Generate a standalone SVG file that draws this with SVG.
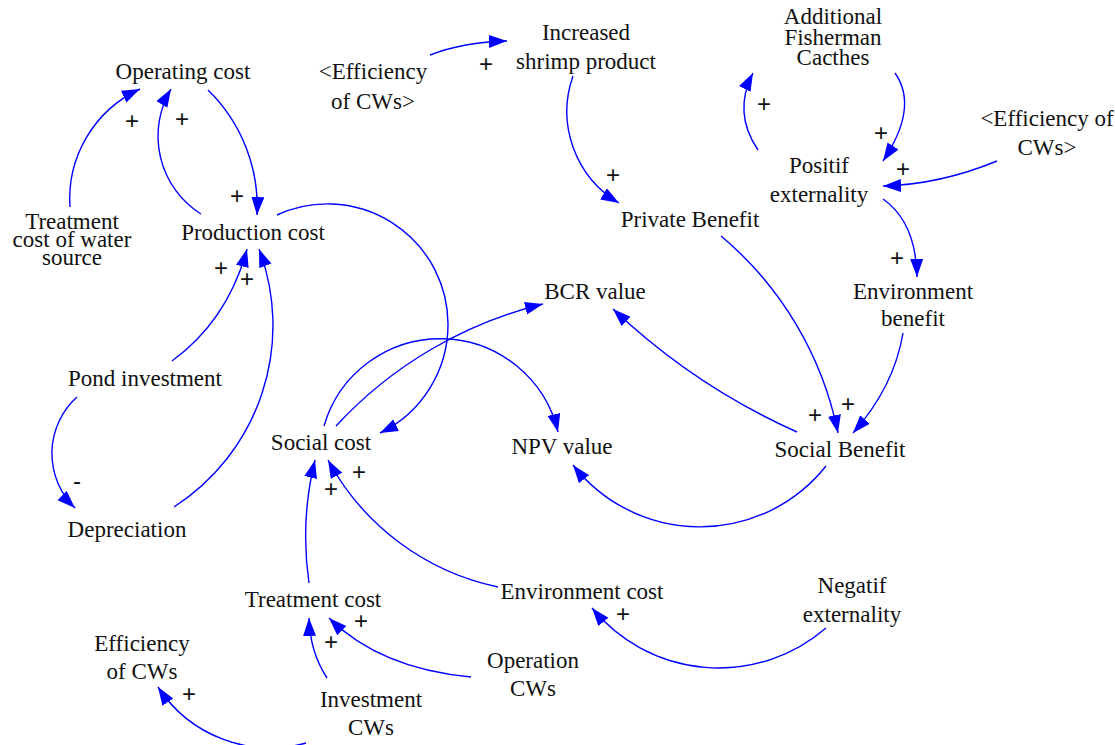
<svg xmlns="http://www.w3.org/2000/svg" width="1115" height="745" viewBox="0 0 1115 745">
<style>
.c path{fill:none;stroke:#0000FF;stroke-width:1.4;marker-end:url(#ah)}
</style>
<defs>
<marker id="ah" markerUnits="userSpaceOnUse" markerWidth="20" markerHeight="14" refX="18" refY="6.5" orient="auto">
<path d="M0,0 L18,6.5 L0,13 z" fill="#0000FF"/>
</marker>
</defs>
<rect width="1115" height="745" fill="#fff"/>
<g class="c" id="connectors">
<path d="M277,215 A120.5,120.5 0 0 1 448,324 A120.5,120.5 0 0 1 380,433"/>
<path d="M324,426 A121,121 0 0 1 558,432"/>
<path d="M336,426 A417,417 0 0 1 543,304"/>
<path d="M797,432 A658,658 0 0 1 613,309"/>
<path d="M826,466 A161,161 0 0 1 573,465"/>
<path d="M721,236 A346,346 0 0 1 838,433"/>
<path d="M903,333 Q894,387 853,433"/>
<path d="M883,199 Q916,222 917,277"/>
<path d="M997,161 Q940,184.5 883,186"/>
<path d="M895,73 Q919,107 883,161"/>
<path d="M758,150 Q732.5,112.5 753,73"/>
<path d="M573,76 A106.5,106.5 0 0 0 619,203"/>
<path d="M430,55 Q463.5,42 507,41"/>
<path d="M70,207 A121,121 0 0 1 140,89"/>
<path d="M201,214 A92,92 0 0 1 171,89"/>
<path d="M208,90 A163,163 0 0 1 257,215"/>
<path d="M172,361 Q228,320 247,249"/>
<path d="M174,507 A216,216 0 0 0 259,249"/>
<path d="M77,397 A76,76 0 0 0 75,508"/>
<path d="M309,583 Q300,520.5 315,460"/>
<path d="M498,587 A252,252 0 0 1 328,460"/>
<path d="M327,678 Q310,652 309,618"/>
<path d="M471,677 Q380,668.5 329,618"/>
<path d="M306,743 A134,134 0 0 1 158,687"/>
<path d="M826,628 A164,164 0 0 1 592,608"/>
</g>
<g id="polarities">
<text x="132" y="129" font-family="Liberation Sans" font-size="24" text-anchor="middle" fill="#111">+</text>
<text x="182" y="127" font-family="Liberation Sans" font-size="24" text-anchor="middle" fill="#111">+</text>
<text x="237" y="204" font-family="Liberation Sans" font-size="24" text-anchor="middle" fill="#111">+</text>
<text x="221" y="276" font-family="Liberation Sans" font-size="24" text-anchor="middle" fill="#111">+</text>
<text x="247" y="287" font-family="Liberation Sans" font-size="24" text-anchor="middle" fill="#111">+</text>
<text x="486" y="72" font-family="Liberation Sans" font-size="24" text-anchor="middle" fill="#111">+</text>
<text x="613" y="183" font-family="Liberation Sans" font-size="24" text-anchor="middle" fill="#111">+</text>
<text x="764" y="112" font-family="Liberation Sans" font-size="24" text-anchor="middle" fill="#111">+</text>
<text x="881" y="141" font-family="Liberation Sans" font-size="24" text-anchor="middle" fill="#111">+</text>
<text x="903" y="177" font-family="Liberation Sans" font-size="24" text-anchor="middle" fill="#111">+</text>
<text x="897" y="266" font-family="Liberation Sans" font-size="24" text-anchor="middle" fill="#111">+</text>
<text x="815" y="423" font-family="Liberation Sans" font-size="24" text-anchor="middle" fill="#111">+</text>
<text x="848" y="412" font-family="Liberation Sans" font-size="24" text-anchor="middle" fill="#111">+</text>
<text x="77" y="489" font-family="Liberation Sans" font-size="24" text-anchor="middle" fill="#111">-</text>
<text x="331" y="497" font-family="Liberation Sans" font-size="24" text-anchor="middle" fill="#111">+</text>
<text x="359" y="480" font-family="Liberation Sans" font-size="24" text-anchor="middle" fill="#111">+</text>
<text x="331" y="650" font-family="Liberation Sans" font-size="24" text-anchor="middle" fill="#111">+</text>
<text x="361" y="629" font-family="Liberation Sans" font-size="24" text-anchor="middle" fill="#111">+</text>
<text x="189" y="702" font-family="Liberation Sans" font-size="24" text-anchor="middle" fill="#111">+</text>
<text x="623" y="622" font-family="Liberation Sans" font-size="24" text-anchor="middle" fill="#111">+</text>
</g>
<g id="nodes">
<g id="operating-cost"><text x="183" y="79" font-family="Liberation Serif" font-size="23" text-anchor="middle" fill="#111">Operating cost</text></g>
<g id="efficiency-left-shadow"><text x="373" y="79" font-family="Liberation Serif" font-size="23" text-anchor="middle" fill="#111">&lt;Efficiency</text><text x="373" y="109" font-family="Liberation Serif" font-size="23" text-anchor="middle" fill="#111">of CWs&gt;</text></g>
<g id="increased-shrimp"><text x="586" y="40" font-family="Liberation Serif" font-size="23" text-anchor="middle" fill="#111">Increased</text><text x="586" y="69" font-family="Liberation Serif" font-size="23" text-anchor="middle" fill="#111">shrimp product</text></g>
<g id="additional-catches"><text x="833" y="24" font-family="Liberation Serif" font-size="23" text-anchor="middle" fill="#111">Additional</text><text x="833" y="45" font-family="Liberation Serif" font-size="23" text-anchor="middle" fill="#111">Fisherman</text><text x="833" y="65" font-family="Liberation Serif" font-size="23" text-anchor="middle" fill="#111">Cacthes</text></g>
<g id="efficiency-right-shadow"><text x="1047" y="126" font-family="Liberation Serif" font-size="23" text-anchor="middle" fill="#111">&lt;Efficiency of</text><text x="1047" y="155" font-family="Liberation Serif" font-size="23" text-anchor="middle" fill="#111">CWs&gt;</text></g>
<g id="positif-externality"><text x="819" y="173" font-family="Liberation Serif" font-size="23" text-anchor="middle" fill="#111">Positif</text><text x="819" y="202" font-family="Liberation Serif" font-size="23" text-anchor="middle" fill="#111">externality</text></g>
<g id="private-benefit"><text x="690" y="227" font-family="Liberation Serif" font-size="23" text-anchor="middle" fill="#111">Private Benefit</text></g>
<g id="treatment-water"><text x="72" y="229" font-family="Liberation Serif" font-size="23" text-anchor="middle" fill="#111">Treatment</text><text x="72" y="247" font-family="Liberation Serif" font-size="23" text-anchor="middle" fill="#111">cost of water</text><text x="72" y="265" font-family="Liberation Serif" font-size="23" text-anchor="middle" fill="#111">source</text></g>
<g id="production-cost"><text x="253" y="240" font-family="Liberation Serif" font-size="23" text-anchor="middle" fill="#111">Production cost</text></g>
<g id="bcr-value"><text x="595" y="299" font-family="Liberation Serif" font-size="23" text-anchor="middle" fill="#111">BCR value</text></g>
<g id="environment-benefit"><text x="913" y="299" font-family="Liberation Serif" font-size="23" text-anchor="middle" fill="#111">Environment</text><text x="913" y="326" font-family="Liberation Serif" font-size="23" text-anchor="middle" fill="#111">benefit</text></g>
<g id="pond-investment"><text x="145" y="386" font-family="Liberation Serif" font-size="23" text-anchor="middle" fill="#111">Pond investment</text></g>
<g id="social-cost"><text x="321" y="450" font-family="Liberation Serif" font-size="23" text-anchor="middle" fill="#111">Social cost</text></g>
<g id="npv-value"><text x="562" y="454" font-family="Liberation Serif" font-size="23" text-anchor="middle" fill="#111">NPV value</text></g>
<g id="social-benefit"><text x="840" y="457" font-family="Liberation Serif" font-size="23" text-anchor="middle" fill="#111">Social Benefit</text></g>
<g id="depreciation"><text x="127" y="537" font-family="Liberation Serif" font-size="23" text-anchor="middle" fill="#111">Depreciation</text></g>
<g id="treatment-cost"><text x="313" y="607" font-family="Liberation Serif" font-size="23" text-anchor="middle" fill="#111">Treatment cost</text></g>
<g id="environment-cost"><text x="582" y="599" font-family="Liberation Serif" font-size="23" text-anchor="middle" fill="#111">Environment cost</text></g>
<g id="negatif-externality"><text x="852" y="593" font-family="Liberation Serif" font-size="23" text-anchor="middle" fill="#111">Negatif</text><text x="852" y="622" font-family="Liberation Serif" font-size="23" text-anchor="middle" fill="#111">externality</text></g>
<g id="efficiency-cws"><text x="142" y="651" font-family="Liberation Serif" font-size="23" text-anchor="middle" fill="#111">Efficiency</text><text x="142" y="679" font-family="Liberation Serif" font-size="23" text-anchor="middle" fill="#111">of CWs</text></g>
<g id="operation-cws"><text x="533" y="668" font-family="Liberation Serif" font-size="23" text-anchor="middle" fill="#111">Operation</text><text x="533" y="696" font-family="Liberation Serif" font-size="23" text-anchor="middle" fill="#111">CWs</text></g>
<g id="investment-cws"><text x="371" y="707" font-family="Liberation Serif" font-size="23" text-anchor="middle" fill="#111">Investment</text><text x="371" y="735" font-family="Liberation Serif" font-size="23" text-anchor="middle" fill="#111">CWs</text></g>
</g>
</svg>
